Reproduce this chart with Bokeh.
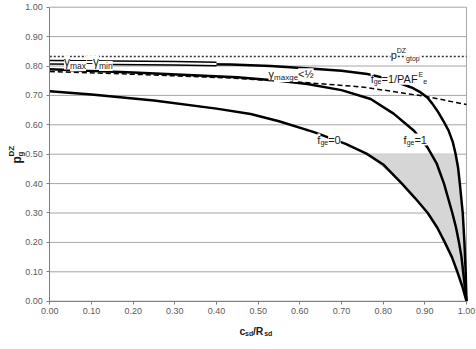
import numpy as np
from bokeh.plotting import figure
from bokeh.models import Range1d, FixedTicker, NumeralTickFormatter, Label, LinearAxis
from bokeh.embed import file_html
from bokeh.resources import INLINE

# ---------------- data ----------------
x_ticks = [0.0, 0.1, 0.2, 0.3, 0.4, 0.5, 0.6, 0.7, 0.8, 0.9, 1.0]
y_ticks = [0.0, 0.1, 0.2, 0.3, 0.4, 0.5, 0.6, 0.7, 0.8, 0.9, 1.0]

# f_ge = 0
fge0_x = [0.0, 0.1, 0.25, 0.4, 0.482, 0.55, 0.634, 0.71, 0.76, 0.80, 0.845, 0.877, 0.907, 0.93, 0.948, 0.965, 0.978, 0.99, 1.0]
fge0_y = [0.714, 0.703, 0.683, 0.655, 0.637, 0.612, 0.575, 0.535, 0.502, 0.465, 0.40, 0.35, 0.30, 0.25, 0.20, 0.15, 0.10, 0.05, 0.0]

# f_ge = 1
fge1_x = [0.0, 0.2, 0.45, 0.55, 0.618, 0.70, 0.77, 0.825, 0.874, 0.906, 0.928, 0.946, 0.958, 0.966, 0.975, 0.982, 0.988, 0.992, 0.996, 1.0]
fge1_y = [0.789, 0.778, 0.762, 0.75, 0.739, 0.718, 0.688, 0.638, 0.58, 0.524, 0.47, 0.40, 0.34, 0.30, 0.25, 0.20, 0.15, 0.10, 0.05, 0.0]

# f_ge = 1/PAF^E_e
paf_x = [0.0, 0.25, 0.434, 0.53, 0.632, 0.70, 0.762, 0.81, 0.868, 0.89, 0.906, 0.918, 0.932, 0.945, 0.957, 0.967, 0.974, 0.980, 0.984, 0.991, 0.995, 0.998, 1.0]
paf_y = [0.812, 0.808, 0.805, 0.80, 0.791, 0.784, 0.773, 0.757, 0.727, 0.71, 0.693, 0.672, 0.643, 0.612, 0.58, 0.542, 0.50, 0.452, 0.40, 0.30, 0.20, 0.10, 0.0]

# gamma_maxge < 1/2 (dashed)
dash_x = [0.0, 0.2, 0.434, 0.6, 0.754, 0.9, 1.0]
dash_y = [0.781, 0.772, 0.759, 0.745, 0.728, 0.697, 0.669]

# gamma_max = gamma_min (double line)
geq_x = [0.0, 0.15, 0.3, 0.4]
geq_y = [0.813, 0.811, 0.809, 0.807]

# p^DZ_gtop
pgtop = 0.832

# shaded region levels
shade_y = [0.0, 0.1, 0.2, 0.3, 0.4, 0.5]

# ---------------- figure ----------------
FONT = "Liberation Sans"
X0, X1 = 0.0, 1.0
Y0, Y1 = 0.0, 1.0
# frame covers the whole canvas; the 0..1 plot box sits inside it
p = figure(width=476, height=349,
           x_range=Range1d(-0.1183, 1.0240), y_range=Range1d(-0.1643, 1.0228),
           output_backend="svg", toolbar_location=None, min_border=0,
           x_axis_location=None, y_axis_location=None)
p.background_fill_color = "white"
p.border_fill_color = "white"
p.outline_line_color = None
p.xgrid.visible = False
p.ygrid.visible = False


def style_axis(ax, ticks):
    ax.ticker = FixedTicker(ticks=ticks)
    ax.formatter = NumeralTickFormatter(format="0.00")
    ax.bounds = (0, 1)
    ax.major_tick_out = 3
    ax.major_tick_in = 0
    ax.minor_tick_line_color = None
    ax.axis_line_color = "#7f7f7f"
    ax.major_tick_line_color = "#7f7f7f"
    ax.major_label_text_font = FONT
    ax.major_label_text_font_size = "9px"
    ax.major_label_text_color = "#5a5a5a"
    ax.major_label_standoff = 4


# horizontal grid lines across the plot box
p.segment(x0=[X0] * len(y_ticks), x1=[X1] * len(y_ticks), y0=y_ticks, y1=y_ticks,
          line_color="#a6a6a6", line_width=1)
# right border of the plot box
p.segment(x0=[X1], x1=[X1], y0=[Y0], y1=[Y1], line_color="#a6a6a6", line_width=1)

xa = LinearAxis(fixed_location=0)
style_axis(xa, x_ticks)
p.add_layout(xa, "below")
ya = LinearAxis(fixed_location=0)
style_axis(ya, y_ticks)
p.add_layout(ya, "left")

# shading between f_ge=0 and f_ge=1/PAF below 0.5
x1 = np.interp(shade_y, fge0_y[::-1], fge0_x[::-1])
x2 = np.interp(shade_y, paf_y[::-1], paf_x[::-1])
p.harea(y=shade_y, x1=x1, x2=x2, fill_color="#d6d6d6", fill_alpha=1.0)

# lines
p.line([X0, X1], [pgtop, pgtop], line_color="#333333", line_width=1.5, line_dash="2 2")
p.line(dash_x, dash_y, line_color="black", line_width=1.5, line_dash="5 3")
p.line(fge0_x, fge0_y, line_color="black", line_width=2.5)
p.line(fge1_x, fge1_y, line_color="black", line_width=2.5)
p.line(paf_x, paf_y, line_color="black", line_width=2.5)
p.line(geq_x, geq_y, line_color="black", line_width=5)
p.line(geq_x, geq_y, line_color="white", line_width=2)

# ---------------- rich labels ----------------
WID = {"f": 0.278, "g": 0.556, "e": 0.556, "=": 0.584, "0": 0.556, "1": 0.556, "/": 0.278,
       "P": 0.667, "A": 0.667, "F": 0.611, "E": 0.667, "γ": 0.5, "m": 0.833, "a": 0.556,
       "x": 0.5, "i": 0.222, "n": 0.556, "<": 0.584, "½": 0.834, "p": 0.556, "D": 0.722,
       "Z": 0.611, "t": 0.278, "o": 0.556, "c": 0.5, "s": 0.5, "d": 0.556, "R": 0.722}


def tw(text, fs, bold):
    return sum(WID.get(ch, 0.556) for ch in text) * fs * (1.07 if bold else 1.0)


def rich(x, y, parts, size, sub, bold=False, rotated=False, bg=True):
    adv = 0.0
    for text, kind, advance in parts:
        fs = size if kind == "n" else sub
        dy = {"n": 0.0, "sub": -size * 0.30, "sup": size * 0.42}[kind]
        kw = dict(x=x, y=y, text=text, text_font=FONT, text_font_size=f"{fs}px",
                  text_font_style="bold" if bold else "normal", text_color="#1a1a1a",
                  text_baseline="middle", text_align="left")
        if rotated:
            kw.update(angle=np.pi / 2, x_offset=-dy, y_offset=adv)
        else:
            kw.update(x_offset=adv, y_offset=dy)
        if bg:
            kw.update(background_fill_color="white", background_fill_alpha=1.0)
        p.add_layout(Label(**kw))
        if advance:
            adv += tw(text, fs, bold)


rich(0.818, 0.836, [("p", "n", True), ("DZ", "sup", True), ("gtop", "sub", True)], 11, 7)
rich(0.034, 0.812, [("γ", "n", True), ("max", "sub", True), ("=γ", "n", True), ("min", "sub", True)], 12, 8.5)
rich(0.525, 0.772, [("γ", "n", True), ("maxge", "sub", True), ("<½", "n", True)], 11, 8)
rich(0.77, 0.757, [("f", "n", True), ("ge", "sub", True), ("=1/PAF", "n", True),
                   ("E", "sup", True), ("e", "sub", True)], 11, 7)
rich(0.642, 0.55, [("f", "n", True), ("ge", "sub", True), ("=0", "n", True)], 11, 7)
rich(0.849, 0.55, [("f", "n", True), ("ge", "sub", True), ("=1", "n", True)], 11, 7)

# axis titles
rich(0.455, -0.10, [("c", "n", True), ("sd", "sub", True), ("/R", "n", True), ("sd", "sub", True)],
     10.5, 7, bold=True, bg=False)
rich(-0.079, 0.468, [("p", "n", True), ("g", "sub", False), ("DZ", "sup", True)],
     12, 8, bold=True, rotated=True, bg=False)

open("out.html", "w").write(file_html(p, INLINE))
